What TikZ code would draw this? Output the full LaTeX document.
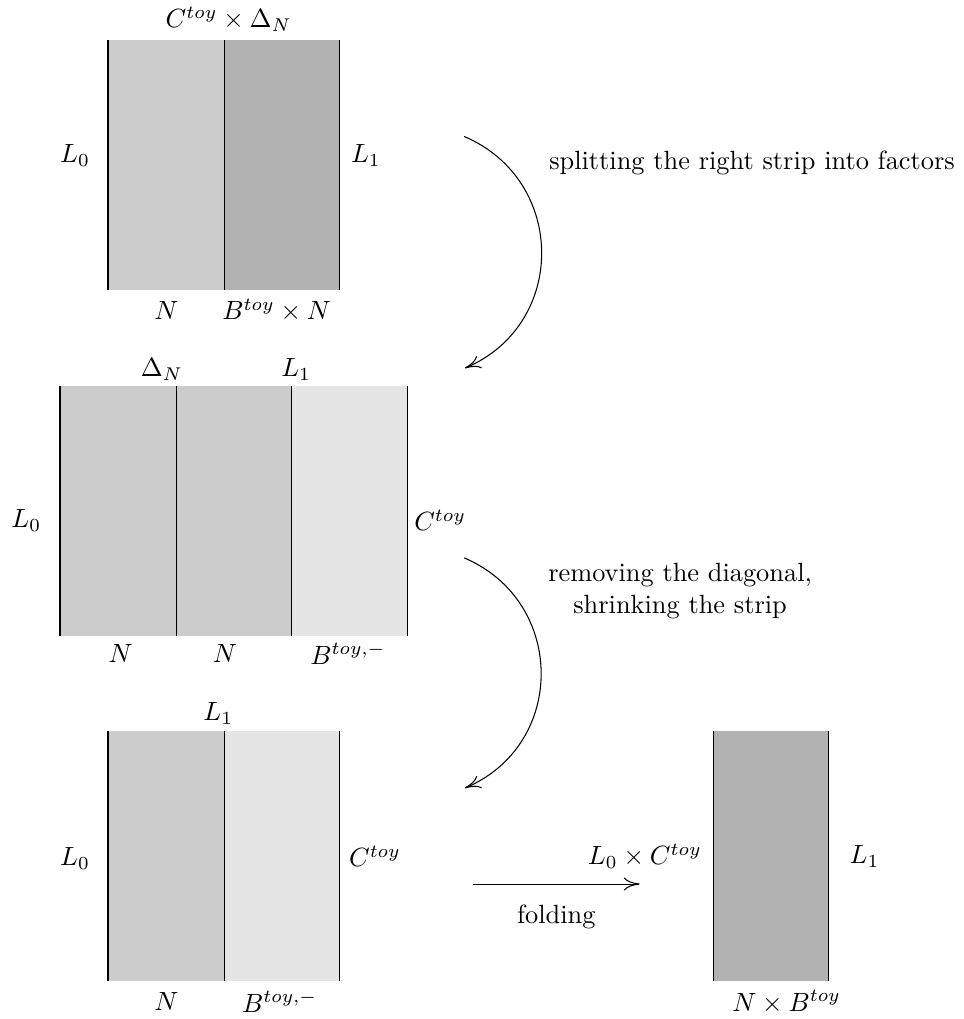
\documentclass[tikz,border=0pt]{standalone}
\usetikzlibrary{arrows.meta}
\begin{document}
\begin{tikzpicture}[lightstrip/.style={fill=gray!20}, midstrip/.style={fill=gray!40}, darkstrip/.style={fill=gray!60}]
        
        \useasboundingbox (0,0) rectangle (12.85,13.59);
        
        \fill [midstrip]  (1.44,9.72) rectangle (2.99,13.05);
        \fill [darkstrip] (2.99,9.72) rectangle (4.53,13.05);
        \draw (1.44,9.72) -- (1.44,13.05);
        \draw (2.99,9.72) -- (2.99,13.05);
        \draw (4.53,9.72) -- (4.53,13.05);
        
        \fill [midstrip]   (0.80,5.11) rectangle (2.35,8.44);
        \fill [midstrip]   (2.35,5.11) rectangle (3.89,8.44);
        \fill [lightstrip] (3.89,5.11) rectangle (5.43,8.44);
        \draw (0.80,5.11) -- (0.80,8.44);
        \draw (2.35,5.11) -- (2.35,8.44);
        \draw (3.89,5.11) -- (3.89,8.44);
        \draw (5.43,5.11) -- (5.43,8.44);
        
        \fill [midstrip]   (1.44,0.51) rectangle (2.99,3.84);
        \fill [lightstrip] (2.99,0.51) rectangle (4.53,3.84);
        \draw (1.44,0.51) -- (1.44,3.84);
        \draw (2.99,0.51) -- (2.99,3.84);
        \draw (4.53,0.51) -- (4.53,3.84);
        
        \fill [darkstrip] (9.51,0.51) rectangle (11.05,3.84);
        \draw (9.51,0.51) -- (9.51,3.84);
        \draw (11.05,0.51) -- (11.05,3.84);
        
        \node (cd) at (3.05,13.33) {$C^{toy} \times \Delta_N$};
        \node (la) at (1.00,11.52) {$L_0$};
        \node (lb) at (4.88,11.52) {$L_1$};
        \node (na) at (2.22,9.45) {$N$};
        \node (ba) at (3.69,9.45) {$B^{toy} \times N$};
        
        \node (dn) at (2.16,8.66) {$\Delta_N$};
        \node (lc) at (3.95,8.66) {$L_1$};
        \node (ld) at (0.35,6.65) {$L_0$};
        \node (ce) at (5.87,6.65) {$C^{toy}$};
        \node (nb) at (1.61,4.87) {$N$};
        \node (nc) at (3.00,4.87) {$N$};
        \node (bb) at (4.64,4.87) {$B^{toy,-}$};
        
        \node (le) at (2.91,4.07) {$L_1$};
        \node (lf) at (1.00,2.14) {$L_0$};
        \node (cf) at (5.00,2.17) {$C^{toy}$};
        \node (nd) at (2.22,0.23) {$N$};
        \node (bc) at (3.73,0.23) {$B^{toy,-}$};
        
        \node (lg) at (8.60,2.17) {$L_0 \times C^{toy}$};
        \node (lh) at (11.53,2.17) {$L_1$};
        \node (nbt) at (10.49,0.23) {$N \times B^{toy}$};
        
        \node (split) at (10.03,11.42) {splitting the right strip into factors};
        \node (remove) at (9.07,5.71) [align=center] {removing the diagonal,\\ shrinking the strip};
        \node (fold) at (7.42,1.36) {folding};
        
        \coordinate (sa) at (6.19,11.77);
        \coordinate (ea) at (6.20,8.68);
        \coordinate (sb) at (6.19,6.15);
        \coordinate (eb) at (6.20,3.08);
        \coordinate (fa) at (6.31,1.80);
        \coordinate (fb) at (8.53,1.80);
        
        \begin{scope}[-{To[length=6pt, width=5pt]}]
        \draw (sa) to [out=-23, in=23, looseness=1.23] (ea);
        \draw (sb) to [out=-23, in=23, looseness=1.23] (eb);
        \draw (fa) -- (fb);
        \end{scope}
        
\end{tikzpicture}
\end{document}
